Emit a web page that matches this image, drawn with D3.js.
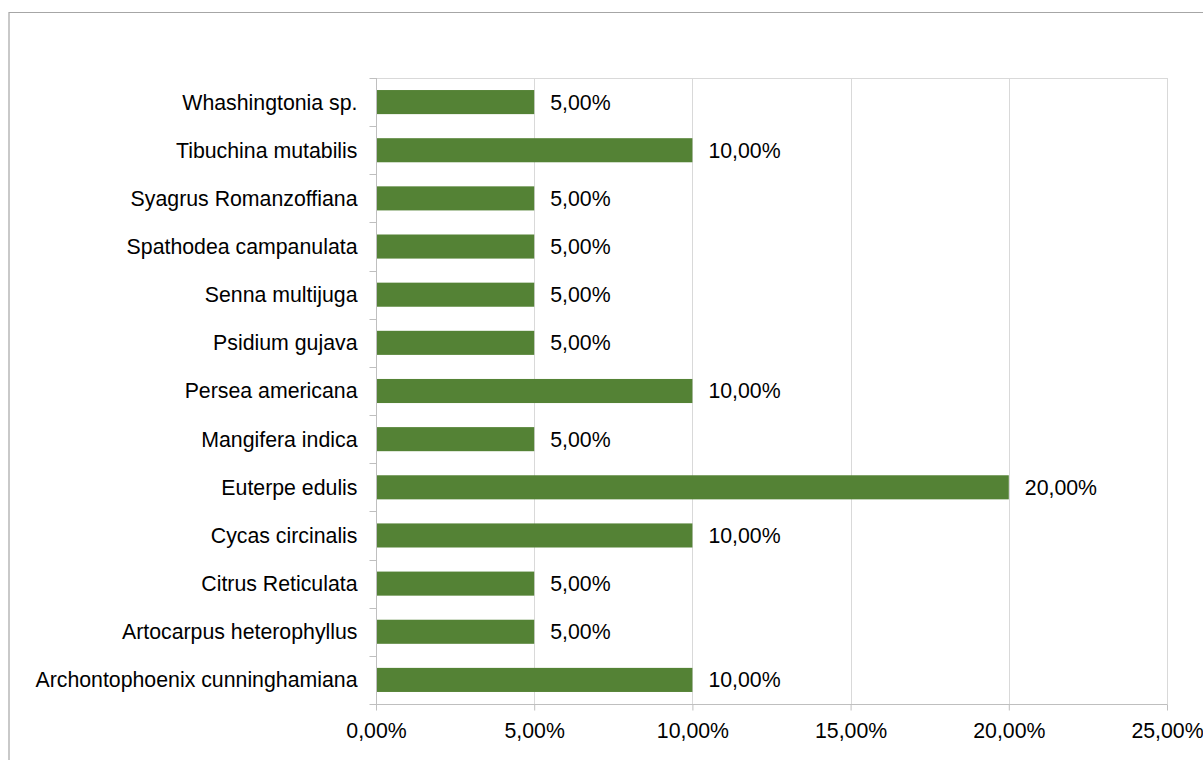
<!DOCTYPE html>
<html>
<head>
<meta charset="utf-8">
<script src="https://cdn.jsdelivr.net/npm/d3@7"></script>
<style>
  html, body { margin: 0; padding: 0; background: #fff; }
  svg { display: block; font-family: "Liberation Sans", Arial, sans-serif; }
</style>
</head>
<body>
<svg id="chart" width="1203" height="760"></svg>
<script>
// Data (top to bottom as shown)
const categories = [
  "Whashingtonia sp.",
  "Tibuchina mutabilis",
  "Syagrus Romanzoffiana",
  "Spathodea campanulata",
  "Senna multijuga",
  "Psidium gujava",
  "Persea americana",
  "Mangifera indica",
  "Euterpe edulis",
  "Cycas circinalis",
  "Citrus Reticulata",
  "Artocarpus heterophyllus",
  "Archontophoenix cunninghamiana"
];
const values = [0.05, 0.10, 0.05, 0.05, 0.05, 0.05, 0.10, 0.05, 0.20, 0.10, 0.05, 0.05, 0.10];
const xTicks = [0, 0.05, 0.10, 0.15, 0.20, 0.25];

const locale = d3.formatLocale({ decimal: ",", thousands: ".", grouping: [3], currency: ["", "€"] });
const pct = locale.format(".2%");

const svg = d3.select("#chart");
const W = 1203, H = 760;
const pLeft = 376, pRight = 1167, pTop = 78, pBottom = 704;
const fontSize = 21.3;

// Outer chart border (left and top visible)
svg.append("path")
  .attr("d", `M9,${H} V12.5 H${W}`)
  .attr("fill", "none")
  .attr("stroke", "#a6a6a6")
  .attr("stroke-width", 1.2);

const x = d3.scaleLinear().domain([0, 0.25]).range([pLeft, pRight]);
const y = d3.scaleBand().domain(categories).range([pTop, pBottom]).paddingInner(0.5).paddingOuter(0.25);

// Gridlines
svg.append("g")
  .selectAll("line")
  .data(xTicks.slice(1))
  .join("line")
  .attr("x1", d => Math.round(x(d)) + 0.5)
  .attr("x2", d => Math.round(x(d)) + 0.5)
  .attr("y1", pTop)
  .attr("y2", pBottom)
  .attr("stroke", "#d9d9d9")
  .attr("stroke-width", 1);

// Plot area top border
svg.append("line")
  .attr("x1", pLeft).attr("x2", pRight + 0.5)
  .attr("y1", pTop + 0.5).attr("y2", pTop + 0.5)
  .attr("stroke", "#d9d9d9");

// Bars
svg.append("g")
  .selectAll("rect")
  .data(categories)
  .join("rect")
  .attr("x", x(0))
  .attr("y", d => y(d))
  .attr("width", (d, i) => x(values[i]) - x(0))
  .attr("height", y.bandwidth())
  .attr("fill", "#548235");

// Value labels
svg.append("g")
  .selectAll("text")
  .data(categories)
  .join("text")
  .attr("x", (d, i) => x(values[i]) + 16)
  .attr("y", d => y(d) + y.bandwidth() / 2)
  .attr("dy", "0.35em")
  .attr("font-size", fontSize)
  .attr("fill", "#000")
  .text((d, i) => pct(values[i]));

// Bottom axis
const xAxis = d3.axisBottom(x).tickValues(xTicks).tickFormat(pct).tickSize(6).tickPadding(8);
const gx = svg.append("g").attr("transform", `translate(0,${pBottom + 0.5})`).call(xAxis);
gx.select(".domain").attr("stroke", "#bfbfbf").attr("d", `M${pLeft},0H${pRight + 0.5}`);
gx.selectAll(".tick line").attr("stroke", "#bfbfbf");
gx.selectAll(".tick text").attr("font-size", fontSize).attr("fill", "#000")
  .attr("font-family", "Liberation Sans, Arial, sans-serif").attr("dy", "0.9em");

// Left axis
const gy = svg.append("g").attr("transform", `translate(${pLeft + 0.5},0)`);
gy.append("line").attr("x1", 0).attr("x2", 0).attr("y1", pTop).attr("y2", pBottom + 6)
  .attr("stroke", "#bfbfbf");
const boundaries = d3.range(categories.length + 1).map(i => pTop + i * y.step());
gy.selectAll("line.tk").data(boundaries).join("line").attr("class", "tk")
  .attr("x1", -7).attr("x2", 0)
  .attr("y1", d => Math.round(d) + 0.5).attr("y2", d => Math.round(d) + 0.5)
  .attr("stroke", "#bfbfbf");
gy.selectAll("text").data(categories).join("text")
  .attr("x", -19)
  .attr("y", d => y(d) + y.bandwidth() / 2)
  .attr("dy", "0.35em")
  .attr("text-anchor", "end")
  .attr("font-size", fontSize)
  .attr("fill", "#000")
  .text(d => d);
</script>
</body>
</html>
